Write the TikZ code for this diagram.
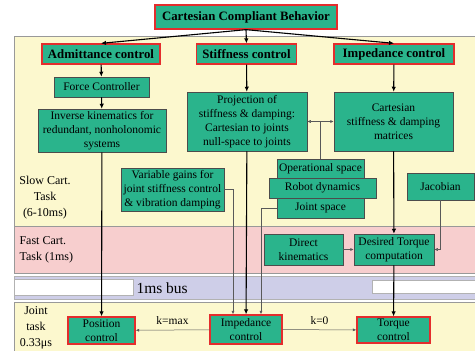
\documentclass[tikz,border=0pt]{standalone}
\usepackage{fontspec}
\setmainfont{Liberation Serif}[BoldFont={Liberation Serif Bold}]
\usetikzlibrary{arrows.meta}
\definecolor{boxgreen}{RGB}{42,180,140}
\definecolor{boxred}{RGB}{228,45,45}
\definecolor{slowbg}{RGB}{252,248,206}
\definecolor{fastbg}{RGB}{247,206,206}
\definecolor{busbg}{RGB}{206,206,232}
\begin{document}
\begin{tikzpicture}[x=1pt,y=-1pt,
	every node/.style={align=center,font=\fontsize{11.5}{14}\selectfont},
	box/.style={draw=black!70,line width=0.5pt,fill=boxgreen,inner sep=1pt},
	redbox/.style={box,draw=boxred,line width=1.3pt},
	head/.style={redbox,font=\fontsize{12.8}{15}\selectfont\bfseries},
	side/.style={font=\fontsize{12}{16}\selectfont},
	flow/.style={line width=1.1pt,-{Latex[length=5pt,width=4.5pt]}},
	link/.style={line width=0.5pt,draw=black!65,-{Latex[length=3.5pt,width=3pt]}}]
	\useasboundingbox (0,0) rectangle (475,351);
	\fill[white] (0,0) rectangle (475,351);
	\filldraw[fill=slowbg,draw=black!40] (14,36) rectangle (476,226);
	\filldraw[fill=fastbg,draw=black!40] (14,226) rectangle (476,273);
	\filldraw[fill=busbg,draw=black!30] (14,276) rectangle (476,299);
	\filldraw[fill=white,draw=black!30] (14,279) rectangle (133,295);
	\filldraw[fill=white,draw=black!30] (372,280) rectangle (476,293);
	\filldraw[fill=slowbg,draw=black!40] (14,302) rectangle (476,352);
	\node[anchor=west,font=\fontsize{15.5}{18}\selectfont] (bus) at (133,288) {1ms bus};
	\node[side] (slow) at (45,198) {Slow Cart.\\Task\\(6-10ms)};
	\node[side,align=left,anchor=west] (fast) at (16,250) {Fast Cart.\\Task (1ms)};
	\node[side] (joint) at (36,328) {Joint\\task\\0.33μs};
	\node[head,minimum width=182pt,minimum height=24pt] (top) at (246,17) {Cartesian Compliant Behavior};
	\node[head,minimum width=118pt,minimum height=20pt] (adm) at (101,54) {Admittance control};
	\node[head,minimum width=100pt,minimum height=20pt] (stf) at (246.5,54) {Stiffness control};
	\node[head,minimum width=120pt,minimum height=20pt] (imp) at (394,54) {Impedance control};
	\node[box,minimum width=95pt,minimum height=20pt] (force) at (101.5,87) {Force Controller};
	\node[box,minimum width=128pt,minimum height=43pt] (invkin) at (102,130.5) {Inverse kinematics for\\redundant, nonholonomic\\systems};
	\node[box,minimum width=120pt,minimum height=59pt] (proj) at (247,121.5) {Projection of\\stiffness \& damping:\\Cartesian to joints\\null-space to joints};
	\node[box,minimum width=119pt,minimum height=59pt] (cartmat) at (393.5,121.5) {Cartesian\\stiffness \& damping\\matrices};
	\node[box,minimum width=87pt,minimum height=19pt] (opspace) at (320.5,168.5) {Operational space};
	\node[box,minimum width=107pt,minimum height=20pt] (robdyn) at (322.5,188) {Robot dynamics};
	\node[box,minimum width=87pt,minimum height=20pt] (jspace) at (320.5,208) {Joint space};
	\node[box,minimum width=67pt,minimum height=27pt] (jacob) at (440.5,186.5) {Jacobian};
	\node[box,minimum width=103pt,minimum height=43pt] (vargain) at (172.5,189.5) {Variable gains for\\joint stiffness control\\\& vibration damping};
	\node[box,minimum width=79pt,minimum height=31pt] (dirkin) at (303.5,249.5) {Direct\\kinematics};
	\node[box,minimum width=80pt,minimum height=31pt] (destorq) at (394,249.5) {Desired Torque\\computation};
	\node[redbox,minimum width=67pt,minimum height=27pt] (poscon) at (101.5,330.5) {Position\\control};
	\node[redbox,minimum width=72pt,minimum height=29pt] (impcon) at (246,329.5) {Impedance\\control};
	\node[redbox,minimum width=73pt,minimum height=26pt] (torqcon) at (393.5,330) {Torque\\control};
	\draw[flow] (top.south) -- (adm.north);
	\draw[flow] (top.south) -- (stf.north);
	\draw[flow] (top.south) -- (imp.north);
	\draw[flow] (adm) -- (force);
	\draw[flow] (force) -- (invkin);
	\draw[flow] (invkin) -- (poscon);
	\draw[flow] (stf) -- (proj);
	\draw[flow] (proj) -- (impcon);
	\draw[flow] (imp) -- (cartmat);
	\draw[flow] (cartmat) -- (destorq);
	\draw[flow] (destorq) -- (torqcon);
	\draw[link,{Latex[length=3.5pt,width=3pt]}-{Latex[length=3.5pt,width=3pt]}] (proj.east) -- (cartmat.west);
	\draw[link,-] (opspace.north) -- (opspace.north |- proj.east);
	\draw[link] (vargain.east) -| ([xshift=-13pt]impcon.north);
	\draw[link] (jspace.west) -| ([xshift=15pt]impcon.north);
	\draw[link] (jacob.south) |- (destorq.east);
	\draw[link] (dirkin) -- (destorq);
	\draw[link] (impcon) -- node[above=2pt] {k=max} (poscon);
	\draw[link] (impcon) -- node[above=2pt] {k=0} (torqcon);
\end{tikzpicture}
\end{document}
